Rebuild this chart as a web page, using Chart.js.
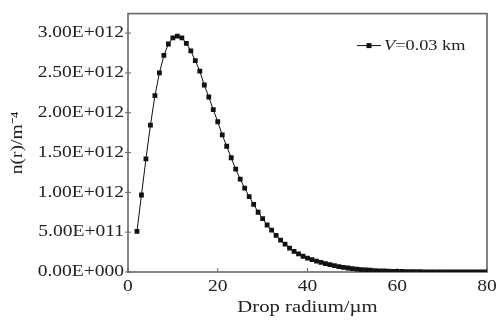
<!DOCTYPE html>
<html><head><meta charset="utf-8">
<script src="https://cdn.jsdelivr.net/npm/chart.js@4/dist/chart.umd.min.js"></script>
<style>html,body{margin:0;padding:0;background:#fff}</style>
</head><body>
<canvas id="c" width="500" height="320"></canvas>
<script>
// ---- data ----
const radius = [2,3,4,5,6,7,8,9,10,11,12,13,14,15,16,17,18,19,20,21,22,23,24,25,26,27,28,29,30,
  31,32,33,34,35,36,37,38,39,40,41,42,43,44,45,46,47,48,49,50,51,52,53,54,55,56,57,58,59,60,
  61,62,63,64,65,66,67,68,69,70,71,72,73,74,75,76,77,78,79,80];
const density = [0.51e12,0.967e12,1.42e12,1.845e12,2.214e12,2.50e12,2.72e12,2.863e12,2.94e12,2.962e12,
  2.94e12,2.872e12,2.777e12,2.654e12,2.522e12,2.348e12,2.198e12,2.038e12,1.887e12,1.722e12,
  1.579e12,1.435e12,1.291e12,1.167e12,1.053e12,0.946e12,0.85e12,0.75e12,0.67e12,0.59e12,
  0.525e12,0.46e12,0.40e12,0.35e12,0.30e12,0.26e12,0.228e12,0.198e12,0.175e12,0.155e12,
  0.137e12,0.12e12,0.105e12,0.092e12,0.08e12,0.068e12,0.058e12,0.05e12,0.043e12,0.036e12,
  0.031e12,0.026e12,0.022e12,0.018e12,0.015e12,0.013e12,0.011e12,0.009e12,0.007e12,0.006e12,
  0.005e12,0.0042e12,0.0035e12,0.003e12,0.0025e12,0.002e12,0.0017e12,0.0014e12,0.0012e12,0.001e12,
  0.0008e12,0.0007e12,0.0006e12,0.0005e12,0.0004e12,0.0003e12,0.0003e12,0.0002e12,0.0002e12];
const xTickValues = [0,20,40,60,80];
const yTickValues = [0,5e11,1e12,1.5e12,2e12,2.5e12,3e12];
const yTickLabels = ['0.00E+000','5.00E+011','1.00E+012','1.50E+012','2.00E+012','2.50E+012','3.00E+012'];
const xTitle = 'Drop radium/\u00b5m';
const yTitle = 'n(r)/m\u207b\u2074';
const legendItalic = 'V';
const legendRest = '=0.03 km';

// ---- text is slightly stretched horizontally, as in the reference ----
const canvas = document.getElementById('c');
const ctx = canvas.getContext('2d');
const SX = 1.22;
const rawFill = ctx.fillText.bind(ctx);
ctx.fillText = function(t, x, y, mw) {
  this.save(); this.translate(x, y); this.scale(SX, 1);
  if (mw === undefined || mw === null) rawFill(t, 0, 0); else rawFill(t, 0, 0, mw / SX);
  this.restore();
};

const FONT = '"Liberation Serif", "Times New Roman", serif';
const TXT = '#222';

const deco = {
  id: 'deco',
  beforeDatasetsDraw(chart) {
    const {ctx, chartArea: a, scales: {x, y}} = chart;
    ctx.save();
    ctx.strokeStyle = '#666';
    ctx.lineWidth = 1.6;
    ctx.strokeRect(a.left, a.top, a.right - a.left, a.bottom - a.top);
    ctx.lineWidth = 1;
    ctx.beginPath();
    x.ticks.forEach(t => { const p = x.getPixelForValue(t.value); ctx.moveTo(p, a.bottom); ctx.lineTo(p, a.bottom - 4); });
    y.ticks.forEach(t => { const p = y.getPixelForValue(t.value); ctx.moveTo(a.left - 3, p); ctx.lineTo(a.left + 3, p); });
    ctx.stroke();
    ctx.restore();
  },
  afterDraw(chart) {
    const {ctx, chartArea: a} = chart;
    const lx = a.right - 130, ly = a.top + 32;
    ctx.save();
    ctx.strokeStyle = '#111'; ctx.lineWidth = 1;
    ctx.beginPath(); ctx.moveTo(lx, ly); ctx.lineTo(lx + 24, ly); ctx.stroke();
    ctx.fillStyle = '#111';
    ctx.fillRect(lx + 12 - 2.5, ly - 2.5, 5, 5);
    ctx.fillStyle = TXT;
    ctx.textBaseline = 'middle'; ctx.textAlign = 'left';
    ctx.font = 'italic 15px ' + FONT;
    const tx = lx + 27;
    ctx.fillText(legendItalic, tx, ly);
    const w = ctx.measureText(legendItalic).width * SX;
    ctx.font = '15px ' + FONT;
    ctx.fillText(legendRest, tx + w, ly);
    ctx.restore();
  }
};

new Chart(ctx, {
  type: 'line',
  data: {
    datasets: [{
      label: legendItalic + legendRest,
      data: radius.map((r, i) => ({x: r, y: density[i]})),
      borderColor: '#111',
      borderWidth: 1,
      backgroundColor: '#111',
      pointStyle: 'rect',
      pointRadius: 3.4,
      pointBorderWidth: 0,
      pointBackgroundColor: '#111',
      tension: 0,
      fill: false
    }]
  },
  options: {
    responsive: false,
    animation: false,
    devicePixelRatio: 1,
    layout: { padding: { top: 8, right: 13, left: 0, bottom: 0 } },
    plugins: { legend: { display: false }, tooltip: { enabled: false } },
    scales: {
      x: {
        type: 'linear', min: 0, max: 80,
        afterBuildTicks: s => { s.ticks = xTickValues.map(v => ({value: v})); },
        afterFit: s => { s.height = 48; },
        grid: { display: false, drawTicks: false },
        border: { display: false },
        ticks: { padding: 5, color: TXT, font: { family: FONT, size: 16 }, maxRotation: 0, autoSkip: false },
        title: { display: true, text: xTitle, color: TXT, font: { family: FONT, size: 17 }, padding: { top: 0, bottom: 2 } }
      },
      y: {
        type: 'linear', min: 0, max: 3.245e12,
        afterBuildTicks: s => { s.ticks = yTickValues.map(v => ({value: v})); },
        afterFit: s => { s.width = 128; },
        grid: { display: false, drawTicks: false },
        border: { display: false },
        ticks: {
          padding: 4, color: TXT, font: { family: FONT, size: 16 }, autoSkip: false,
          callback: (v) => { const i = yTickValues.indexOf(v); return i >= 0 ? yTickLabels[i] : ''; }
        },
        title: { display: true, text: yTitle, color: TXT, font: { family: FONT, size: 16 }, padding: { top: 8, bottom: 0 } }
      }
    }
  },
  plugins: [deco]
});
</script>
</body></html>
